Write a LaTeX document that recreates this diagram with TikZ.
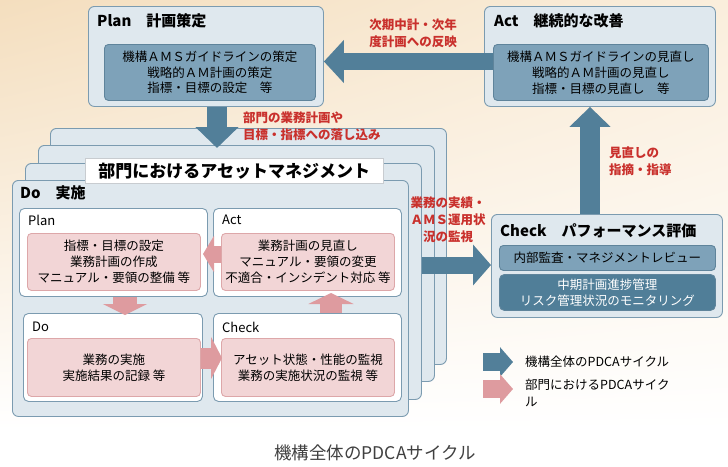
\documentclass[tikz,border=0pt]{standalone}
\usepackage{fontspec}
\setmainfont{Noto Sans CJK JP}
\usetikzlibrary{arrows.meta,calc,shadings}
\definecolor{bgA}{HTML}{F4DEBE}
\definecolor{bgB}{HTML}{FAEEDC}
\definecolor{boxfill}{HTML}{DFE8EE}
\definecolor{boxline}{HTML}{7B9BB0}
\definecolor{midfill}{HTML}{7EA2B9}
\definecolor{midline}{HTML}{5F849B}
\definecolor{darkfill}{HTML}{507E98}
\definecolor{arrowblue}{HTML}{527F99}
\definecolor{pinkfill}{HTML}{F2D5D6}
\definecolor{pinkline}{HTML}{DDA7A9}
\definecolor{pinkarrow}{HTML}{DE9B9F}
\definecolor{redtext}{HTML}{C9302C}
\definecolor{captext}{HTML}{404040}
\definecolor{labline}{HTML}{C8CCD0}
\tikzset{
  rbox/.style={anchor=north west, inner sep=0pt, line width=0.9pt},
  outerbox/.style={rbox, draw=boxline, fill=boxfill, rounded corners=6pt},
  subbox/.style={rbox, draw=boxline, fill=white, rounded corners=5pt},
  midbox/.style={rbox, draw=midline, fill=midfill, rounded corners=4pt},
  darkbox/.style={rbox, draw=midline, fill=darkfill, rounded corners=5pt},
  pinkbox/.style={rbox, draw=pinkline, fill=pinkfill, rounded corners=4pt},
  labbox/.style={rbox, draw=labline, fill=white, line width=0.6pt},
  bodytext/.style={font=\fontsize{12.5}{15.8}\selectfont, align=center, inner sep=0pt},
  titletext/.style={font=\fontsize{15}{18}\selectfont\bfseries, anchor=west, inner sep=0pt},
  subtitle/.style={font=\fontsize{13}{16}\selectfont, anchor=west, inner sep=0pt},
  redlabel/.style={font=\fontsize{12.5}{17}\selectfont\bfseries, text=redtext, inner sep=0pt},
  legtext/.style={font=\fontsize{12.5}{17}\selectfont, anchor=west, align=left, inner sep=0pt},
  bluearrow/.style={draw=arrowblue, line width=#1},
  pinkarr/.style={draw=pinkarrow, line width=#1},
}
\begin{document}
\begin{tikzpicture}[x=1pt,y=-1pt]
\useasboundingbox (0,0) rectangle (728,466);
% background
\shade[upper left=bgA, upper right=bgB, lower left=white, lower right=white] (0,0) rectangle (728,430);
\fill[white] (0,430) rectangle (728,466);

% ---- top Plan box
\node[outerbox, minimum width=235pt, minimum height=100pt] (planbox) at (88,6) {};
\node[titletext] (plantitle) at (97,21) {Plan　計画策定};
\node[midbox, minimum width=211pt, minimum height=56pt] (planin) at (104,44) {};
\node[bodytext] (plantext) at (planin.center) {機構ＡＭＳガイドラインの策定\\戦略的ＡＭ計画の策定\\指標・目標の設定　等};

% ---- top Act box
\node[outerbox, minimum width=231pt, minimum height=100pt] (actbox) at (484,6) {};
\node[titletext] (acttitle) at (494,21) {Act　継続的な改善};
\node[midbox, minimum width=215pt, minimum height=56pt] (actin) at (493,44) {};
\node[bodytext] (acttext) at (actin.center) {機構ＡＭＳガイドラインの見直し\\戦略的ＡＭ計画の見直し\\指標・目標の見直し　等};

% ---- stacked department boxes
\node[outerbox, minimum width=396pt, minimum height=236pt] (layer3) at (50,128) {};
\node[outerbox, minimum width=396pt, minimum height=236pt] (layer2) at (38,145) {};
\node[outerbox, minimum width=396pt, minimum height=236pt] (layer1) at (25,163) {};
\node[outerbox, minimum width=396pt, minimum height=236pt] (dobox) at (12,180) {};
\node[labbox, minimum width=298pt, minimum height=25pt] (deplab) at (85,158) {};
\node[font=\fontsize{17}{20}\selectfont\bfseries, inner sep=0pt] (deplabtext) at (deplab.center) {部門におけるアセットマネジメント};
\node[titletext] (dotitle) at (20,193) {Do　実施};

% sub boxes
\node[subbox, minimum width=188pt, minimum height=88pt] (splan) at (19,208) {};
\node[subtitle] (splant) at (28,220) {Plan};
\node[pinkbox, minimum width=173pt, minimum height=57pt] (pplan) at (27,233) {};
\node[bodytext] (pplantext) at (pplan.center) {指標・目標の設定\\業務計画の作成\\マニュアル・要領の整備 等};

\node[subbox, minimum width=188pt, minimum height=88pt] (sact) at (213,208) {};
\node[subtitle] (sactt) at (222,220) {Act};
\node[pinkbox, minimum width=173pt, minimum height=57pt] (pact) at (221,233) {};
\node[bodytext] (pacttext) at (pact.center) {業務計画の見直し\\マニュアル・要領の変更\\不適合・インシデント対応 等};

\node[subbox, minimum width=179pt, minimum height=88pt] (sdo) at (23,313) {};
\node[subtitle] (sdot) at (32,327) {Do};
\node[pinkbox, minimum width=173pt, minimum height=58pt] (pdo) at (27,338) {};
\node[bodytext] (pdotext) at (pdo.center) {業務の実施\\実施結果の記録 等};

\node[subbox, minimum width=188pt, minimum height=88pt] (scheck) at (213,313) {};
\node[subtitle] (scheckt) at (222,327) {Check};
\node[pinkbox, minimum width=173pt, minimum height=58pt] (pcheck) at (221,338) {};
\node[bodytext] (pchecktext) at (pcheck.center) {アセット状態・性能の監視\\業務の実施状況の監視 等};

% pink cycle arrows
\draw[pinkarr=17pt, -{Triangle[length=11pt,width=36pt]}] (pact.west |- 0,254) -- (203,254) coordinate (pa1);
\draw[pinkarr=24pt, -{Triangle[length=11pt,width=44pt]}] (splan.south -| 125,0) -- (125,315) coordinate (pa2);
\draw[pinkarr=21pt, -{Triangle[length=11pt,width=42pt]}] (pdo.east |- 0,358) -- (222,358) coordinate (pa3);
\draw[pinkarr=22pt, -{Triangle[length=11pt,width=45pt]}] (scheck.north -| 331,0) -- (331,293) coordinate (pa4);

% ---- right Check box
\node[outerbox, minimum width=231pt, minimum height=103pt] (checkbox) at (491,214) {};
\node[titletext] (checktitle) at (500,231) {Check　パフォーマンス評価};
\node[midbox, minimum width=216pt, minimum height=25pt] (checkin1) at (499,245) {};
\node[bodytext] (checktext1) at (checkin1.center) {内部監査・マネジメントレビュー};
\node[darkbox, minimum width=216pt, minimum height=36pt] (checkin2) at (499,274) {};
\node[bodytext, text=white] (checktext2) at (checkin2.center) {中期計画進捗管理\\リスク管理状況のモニタリング};

% ---- big blue arrows
\draw[bluearrow=17pt, -{Triangle[length=20pt,width=42pt]}] (actin.west |- 0,61.5) -- (planbox.east |- 0,61.5);
\draw[bluearrow=20pt, -{Triangle[length=21pt,width=42pt]}] (planbox.south -| 217,0) -- (217,148) coordinate (downtip);
\draw[bluearrow=17pt, -{Triangle[length=18pt,width=40pt]}] (layer1.east |- 0,265) -- (checkbox.west |- 0,265);
\draw[bluearrow=20pt, -{Triangle[length=20pt,width=40pt]}] (checkbox.north -| 590,0) -- (actbox.south -| 590,0);

% red labels
\node[redlabel, align=center] (lab1) at (413,33.5) {次期中計・次年\\度計画への反映};
\node[redlabel, align=left, anchor=west] (lab2) at (243,126) {部門の業務計画や\\目標・指標への落し込み};
\node[redlabel, align=center] (lab3) at (448,220) {業務の実績・\\ＡＭＳ運用状\\況の監視};
\node[redlabel, align=left, anchor=west] (lab4) at (609,161.5) {見直しの\\指摘・指導};

% legend
\coordinate (lg1s) at (483,362);
\coordinate (lg1e) at (513,362);
\draw[bluearrow=18pt, -{Triangle[length=13pt,width=29pt]}] (lg1s) -- (lg1e);
\node[legtext] (leg1) at (525,362) {機構全体のPDCAサイクル};
\coordinate (lg2s) at (483,389);
\coordinate (lg2e) at (513,389);
\draw[pinkarr=18pt, -{Triangle[length=13pt,width=29pt]}] (lg2s) -- (lg2e);
\node[legtext, anchor=north west] (leg2) at (525,379) {部門におけるPDCAサイク\\ル};

% caption
\node[font=\fontsize{17.5}{20}\selectfont, text=captext, inner sep=0pt] (caption) at (375,453) {機構全体のPDCAサイクル};
\end{tikzpicture}
\end{document}
